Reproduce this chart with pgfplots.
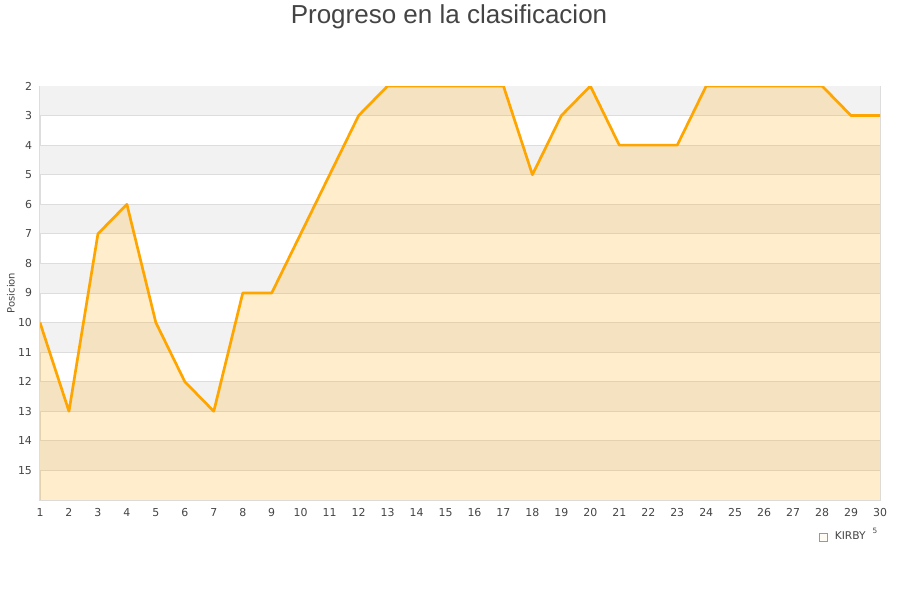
\documentclass[border=0pt]{standalone}
\usepackage{pgfplots}
\pgfplotsset{compat=1.18}
\usepackage{fontspec}
\setmainfont{DejaVu Sans}
\newfontfamily\titlefont{Liberation Sans}
\definecolor{lineorange}{HTML}{FFA500}
\definecolor{bandgray}{HTML}{F2F2F2}
\definecolor{gridgray}{HTML}{DDDDDD}
\definecolor{txtgray}{HTML}{444444}

\begin{document}
\begin{tikzpicture}[x=0.75pt,y=0.75pt]
\useasboundingbox (0,0) rectangle (900,600);
\node[font=\titlefont\fontsize{19.5}{22}\selectfont, text=txtgray] at (449,583) {Progreso en la clasificacion};
\node[rotate=90, font=\fontsize{7.5}{8}\selectfont, text=txtgray] at (11,307) {Posicion};
\begin{axis}[
    at={(30pt,75pt)}, anchor=south west,
    scale only axis, width=630pt, height=310.5pt,
    xmin=1, xmax=30, ymin=2, ymax=16,
    y dir=reverse,
    xtick={1,...,30}, ytick={2,...,15},
    axis line style={gridgray, line width=0.75pt},
    tick style={draw=none},
    ticklabel style={font=\fontsize{8.2}{9}\selectfont, text=txtgray},
    /pgf/number format/assume math mode=true,
    yticklabel style={xshift=-2.5pt},
    xticklabel style={yshift=-3pt},
    legend style={at={(0.957,-0.089)}, anchor=center, draw=none,
      font=\fontsize{8}{9}\selectfont, text=txtgray, fill=none},
    legend image code/.code={
      \draw[fill=lineorange!20, draw=gray!80, line width=0.5pt] (0pt,-3pt) rectangle (6pt,3pt);},
  ]
  \pgfplotsinvokeforeach{2,4,...,14}{
    \fill[bandgray] (axis cs:1,#1) rectangle (axis cs:30,#1+1);
  }
  \pgfplotsinvokeforeach{3,...,15}{
    \draw[gridgray, line width=0.75pt] (axis cs:1,#1) -- (axis cs:30,#1);
  }
  \addplot[draw=none, fill=lineorange, fill opacity=0.2] coordinates {
    (1,16) (1,10) (2,13) (3,7) (4,6) (5,10) (6,12) (7,13) (8,9) (9,9) (10,7)
    (11,5) (12,3) (13,2) (14,2) (15,2) (16,2) (17,2) (18,5) (19,3) (20,2)
    (21,4) (22,4) (23,4) (24,2) (25,2) (26,2) (27,2) (28,2) (29,3) (30,3) (30,16)
  } -- cycle;
  \addlegendentry{\hspace*{3pt}KIRBY}
  \addplot[lineorange, line width=2pt, line join=round, forget plot] coordinates {
    (1,10) (2,13) (3,7) (4,6) (5,10) (6,12) (7,13) (8,9) (9,9) (10,7)
    (11,5) (12,3) (13,2) (14,2) (15,2) (16,2) (17,2) (18,5) (19,3) (20,2)
    (21,4) (22,4) (23,4) (24,2) (25,2) (26,2) (27,2) (28,2) (29,3) (30,3)
  };
\end{axis}
\node[font=\fontsize{5.5}{6}\selectfont, text=txtgray] at (875,69) {5};
\end{tikzpicture}
\end{document}
